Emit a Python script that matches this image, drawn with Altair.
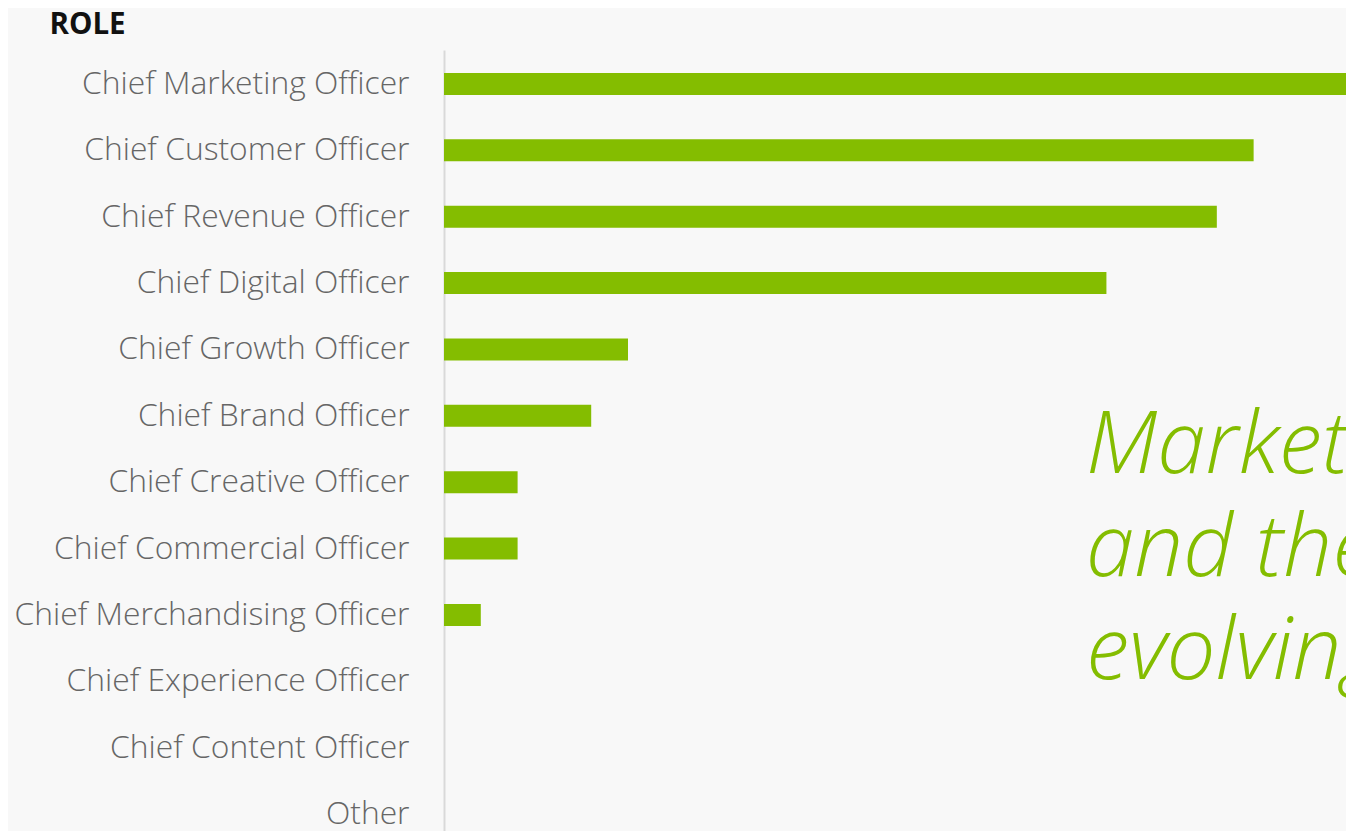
import altair as alt
import pandas as pd

roles = [
    "Chief Marketing Officer",
    "Chief Customer Officer",
    "Chief Revenue Officer",
    "Chief Digital Officer",
    "Chief Growth Officer",
    "Chief Brand Officer",
    "Chief Creative Officer",
    "Chief Commercial Officer",
    "Chief Merchandising Officer",
    "Chief Experience Officer",
    "Chief Content Officer",
    "Other",
]
values = [27, 22, 21, 18, 5, 4, 2, 2, 1, 0, 0, 0]

headline = "Marketers\nand their\nevolving roles"

GREEN = "#84BD00"

df = pd.DataFrame({"role": roles, "value": values})

bars = alt.Chart(df).mark_bar(color=GREEN, clip=True).encode(
    y=alt.Y(
        "role:N",
        sort=roles,
        title="ROLE",
        scale=alt.Scale(paddingInner=0.67, paddingOuter=0.2185, align=0.793),
        axis=alt.Axis(
            labelFont="Open Sans",
            labelFontWeight=300,
            labelFontSize=31.8,
            labelColor="#666666",
            labelPadding=35,
            labelLimit=0,
            ticks=False,
            domainColor="#d9d9d9",
            domainWidth=2,
            titleFont="Open Sans",
            titleFontWeight="bold",
            titleFontSize=29.5,
            titleColor="#111111",
            titleAngle=0,
            titleAlign="left",
            titleBaseline="alphabetic",
            titleX=-395,
            titleY=-17,
        ),
    ),
    x=alt.X("value:Q", scale=alt.Scale(domain=[0, 24.51], nice=False), axis=None),
)

text = alt.Chart(pd.DataFrame({"t": [headline]})).mark_text(
    font="Open Sans",
    fontStyle="italic",
    fontWeight=300,
    fontSize=87,
    color=GREEN,
    align="left",
    baseline="alphabetic",
    lineBreak="\n",
    lineHeight=103,
    clip=True,
).encode(
    text="t:N",
    x=alt.value(642),
    y=alt.value(423),
)

chart = (
    alt.layer(bars, text)
    .properties(
        width=902,
        height=781,
        padding={"left": 436, "top": 42, "right": 0, "bottom": 0},
        autosize=alt.AutoSizeParams(type="none"),
    )
    .configure(background="#f8f8f8")
    .configure_view(stroke=None)
)

chart.save("out.html", embed_options={"renderer": "svg", "actions": False})
